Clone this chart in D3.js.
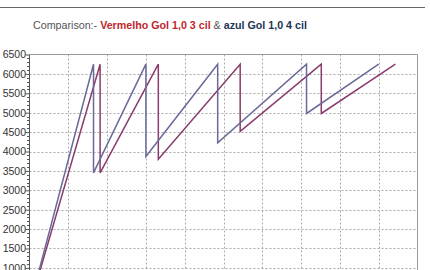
<!DOCTYPE html>
<html>
<head>
<meta charset="utf-8">
<script src="https://cdn.jsdelivr.net/npm/d3@7"></script>
<style>
  body { margin: 0; background: #fff; }
  svg { display: block; }
</style>
</head>
<body>
<svg id="canvas" width="430" height="270"></svg>
<script>
// x values (grid units) and rpm
let azulX = [0, 1.65, 1.65, 3.0, 3.0, 4.85, 4.85, 7.14, 7.14, 9.0]
let azulRpm = [0, 6250, 3450, 6250, 3870, 6250, 4225, 6250, 4980, 6250]

let vermelhoX = [0, 1.82, 1.82, 3.32, 3.32, 5.43, 5.43, 7.52, 7.52, 9.43]
let vermelhoRpm = [0, 6250, 3450, 6250, 3800, 6250, 4520, 6250, 4980, 6250]

let xGrid = [1, 2, 3, 4, 5, 6, 7, 8, 9]
let yLabels = [1000, 1500, 2000, 2500, 3000, 3500, 4000, 4500, 5000, 5500, 6000, 6500]

let canvas = d3.select('#canvas')

let plotLeft = 29.5
let plotRight = 417.5
let plotTop = 54.5

let xScale = d3.scaleLinear().domain([0, 10]).range([plotLeft, plotRight])
let yScale = d3.scaleLinear().domain([0, 6500]).range([plotTop + 13 * 19.4, plotTop])

// top rule
canvas.append('line')
    .attr('x1', 0).attr('x2', 425).attr('y1', 7.5).attr('y2', 7.5)
    .attr('stroke', '#666').attr('stroke-width', 1.2)

// title
let title = canvas.append('text')
    .attr('x', 33).attr('y', 29)
    .style('font-family', 'Liberation Sans, Arial, sans-serif')
    .style('font-size', '10.7px')
title.append('tspan').text('Comparison:- ').attr('fill', '#555')
title.append('tspan').text('Vermelho Gol 1,0 3 cil').attr('fill', '#c0272d').style('font-weight', 'bold')
title.append('tspan').text(' & ').attr('fill', '#555')
title.append('tspan').text('azul Gol 1,0 4 cil').attr('fill', '#1e3554').style('font-weight', 'bold')

// grid
canvas.selectAll('.vgrid')
    .data(xGrid)
    .enter()
    .append('line')
    .attr('class', 'vgrid')
    .attr('x1', (d) => Math.round(xScale(d)) + 0.5)
    .attr('x2', (d) => Math.round(xScale(d)) + 0.5)
    .attr('y1', plotTop).attr('y2', 270)
    .attr('stroke', '#aaa').attr('stroke-dasharray', '2,2')

canvas.selectAll('.hgrid')
    .data(yLabels.filter((d) => d < 6500))
    .enter()
    .append('line')
    .attr('class', 'hgrid')
    .attr('x1', plotLeft).attr('x2', plotRight)
    .attr('y1', (d) => Math.round(yScale(d)) + 0.5)
    .attr('y2', (d) => Math.round(yScale(d)) + 0.5)
    .attr('stroke', '#aaa').attr('stroke-dasharray', '2,2')

// frame top and right
canvas.append('path')
    .attr('d', 'M' + plotLeft + ',' + plotTop + 'H' + plotRight + 'V270')
    .attr('fill', 'none').attr('stroke', '#999')

// y axis with minor ticks
let yAxis = d3.axisLeft(yScale)
    .tickValues(yLabels)
    .tickSize(4)
    .tickFormat(d3.format('d'))
let axisG = canvas.append('g')
    .attr('transform', 'translate(' + plotLeft + ',0)')
    .call(yAxis)
axisG.select('.domain').attr('stroke', '#555').attr('d', 'M0,' + plotTop + 'V270')
axisG.selectAll('.tick line').attr('stroke', '#555')
axisG.selectAll('.tick text')
    .attr('fill', '#333')
    .attr('x', -3.5)
    .style('font-family', 'Liberation Sans, Arial, sans-serif')
    .style('font-size', '10.5px')

let minorTicks = d3.range(800, 6500, 100).filter((d) => d % 500 !== 0)
canvas.selectAll('.minor')
    .data(minorTicks)
    .enter()
    .append('line')
    .attr('class', 'minor')
    .attr('x1', plotLeft - 2.5).attr('x2', plotLeft)
    .attr('y1', (d) => Math.round(yScale(d)) + 0.5)
    .attr('y2', (d) => Math.round(yScale(d)) + 0.5)
    .attr('stroke', '#555')

// series
let line = d3.line()
    .x((d) => xScale(d[0]))
    .y((d) => yScale(d[1]))

canvas.append('path')
    .datum(vermelhoX.map((x, i) => [x, vermelhoRpm[i]]))
    .attr('d', line)
    .attr('fill', 'none')
    .attr('stroke', '#8a3c6c')
    .attr('stroke-width', 1.5)

canvas.append('path')
    .datum(azulX.map((x, i) => [x, azulRpm[i]]))
    .attr('d', line)
    .attr('fill', 'none')
    .attr('stroke', '#6a6a98')
    .attr('stroke-width', 1.5)
</script>
</body>
</html>
